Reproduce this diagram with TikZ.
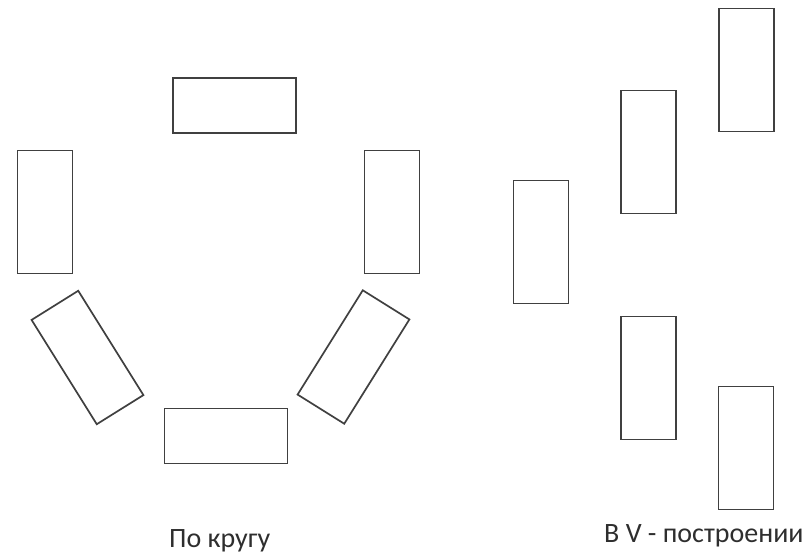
\documentclass[tikz,border=0pt]{standalone}
\usepackage{fontspec}
\setmainfont{Carlito}
\begin{document}
\begin{tikzpicture}[x=1pt,y=-1pt,
  box/.style={draw=black!75,line width=1.7pt,rectangle,inner sep=0pt,fill=white},
  vbox/.style={box,minimum width=55pt,minimum height=123pt},
  hbox/.style={box,minimum width=123pt,minimum height=55pt},
  lbl/.style={inner sep=0pt,anchor=base west,text=black!82,font=\fontsize{28}{30}\selectfont}]
\useasboundingbox (0,0) rectangle (808,556);
\node[hbox] (top) at (234.5,105.5) {};
\node[vbox] (left) at (45,212) {};
\node[vbox] (right) at (392,212) {};
\node[hbox] (bottom) at (226,436) {};
\node[vbox,rotate=32] (tl) at (87.5,357.5) {};
\node[vbox,rotate=-32] (tr) at (353.5,357) {};
\node[vbox] (va) at (541,242) {};
\node[vbox] (vb) at (648.5,152) {};
\node[vbox] (vc) at (746.5,70) {};
\node[vbox] (vd) at (648.5,378) {};
\node[vbox] (ve) at (746,448) {};
\node[lbl] (circ) at (169,547) {По кругу};
\node[lbl] (vform) at (604,542) {В V - построении};
\end{tikzpicture}
\end{document}
